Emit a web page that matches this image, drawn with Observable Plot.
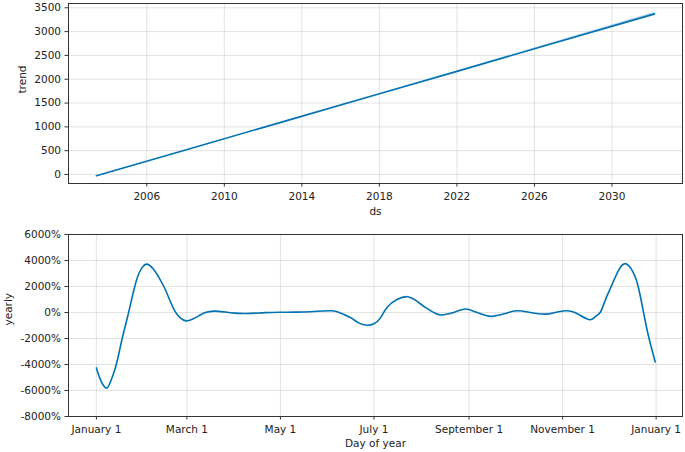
<!DOCTYPE html>
<html>
<head>
<meta charset="utf-8">
<script src="https://cdn.jsdelivr.net/npm/d3@7"></script>
<script src="https://cdn.jsdelivr.net/npm/@observablehq/plot@0.6"></script>
<style>
  html, body { margin: 0; padding: 0; background: white; }
  #chart svg { display: block; }
</style>
</head>
<body>
<div id="chart"></div>
<script>
// ---- Trend panel data ----
const trendYears  = [2003.4, 2008, 2013, 2018, 2022, 2026, 2032.2];
const trendValues = [-27, 515, 1105, 1695, 2165, 2640, 3372];
const trendLower  = [-27, 515, 1105, 1695, 2163, 2622, 3335];
const trendUpper  = [-27, 515, 1105, 1695, 2167, 2658, 3405];
const trendTickYears = [2006, 2010, 2014, 2018, 2022, 2026, 2030];
const trendYTicks = [0, 500, 1000, 1500, 2000, 2500, 3000, 3500];

// ---- Yearly seasonality panel data (day of year, percent) ----
const yearlyDays = [0, 2.6, 6.3, 9, 12, 14.5, 17, 21, 26, 30, 33, 37, 41, 45, 48, 51, 54.5, 58.5, 62.5, 67, 71, 76.5, 83, 90, 98, 110, 120, 130, 139.5, 151.5, 157, 165.6, 171, 176.5, 181, 185, 189.5, 196, 202.5, 208, 215, 222, 226.4, 233, 240.5, 247, 254.6, 259, 266, 274, 283, 292.7, 299, 305.7, 312, 321, 325, 328.5, 331.5, 335, 340.5, 345.3, 350.2, 353.5, 356.8, 360, 364.4];
const yearlyPct  = [-4264, -5163, -5814, -5380, -4400, -3250, -1900, 0, 2420, 3488, 3720, 3364, 2650, 1750, 900, 150, -400, -643, -520, -240, 0, 108, 50, -46, -77, -10, 20, 30, 54, 130, 60, -388, -800, -977, -860, -450, 388, 1000, 1217, 950, 350, -124, -178, 0, 264, 50, -256, -279, -100, 132, 0, -124, 0, 132, 0, -540, -350, 0, 850, 1814, 3233, 3750, 3050, 1900, 0, -1806, -3800];
const monthTickDays = [0, 59, 120, 181, 243, 304, 365];
const monthTickLabels = ["January 1", "March 1", "May 1", "July 1", "September 1", "November 1", "January 1"];
const yearlyYTicks = [-8000, -6000, -4000, -2000, 0, 2000, 4000, 6000];

// ---- helpers ----
function yearToDate(y) {
  const yi = Math.floor(y);
  const start = Date.UTC(yi, 0, 1), end = Date.UTC(yi + 1, 0, 1);
  return new Date(start + (y - yi) * (end - start));
}
const trendData = trendYears.map((y, i) => ({ds: yearToDate(y), trend: trendValues[i], lo: trendLower[i], hi: trendUpper[i]}));
const yearlyData = yearlyDays.map((d, i) => ({day: d, pct: yearlyPct[i]}));
const tickDates = trendTickYears.map(y => new Date(Date.UTC(y, 0, 1)));
const monthLabel = new Map(monthTickDays.map((d, i) => [d, monthTickLabels[i]]));

const BLUE = "#0072B2";
const style = {fontFamily: "'DejaVu Sans', sans-serif", fontSize: "10.5px", color: "#222", background: "white", overflow: "visible"};
const gridStyle = {stroke: "gray", strokeOpacity: 0.22, strokeWidth: 1};

const trendPlot = Plot.plot({
  width: 685, height: 226,
  marginTop: 3, marginBottom: 43, marginLeft: 68, marginRight: 3,
  style,
  x: {type: "utc", domain: [yearToDate(2001.96), yearToDate(2033.64)]},
  y: {domain: [-189, 3590]},
  marks: [
    Plot.gridX(tickDates, gridStyle),
    Plot.gridY(trendYTicks, gridStyle),
    Plot.areaY(trendData, {x: "ds", y1: "lo", y2: "hi", fill: BLUE, fillOpacity: 0.25}),
    Plot.line(trendData, {x: "ds", y: "trend", stroke: BLUE, strokeWidth: 1.6}),
    Plot.frame({stroke: "#333", strokeWidth: 1}),
    Plot.axisX(tickDates, {tickFormat: d => String(d.getUTCFullYear()), tickSize: 3.5, tickPadding: 6, label: null, stroke: "#333"}),
    Plot.axisY(trendYTicks, {tickFormat: d => String(d), tickSize: 3.5, tickPadding: 4, label: null, stroke: "#333"}),
    Plot.text(["ds"], {frameAnchor: "bottom", dy: 31, fill: "#222"}),
    Plot.text(["trend"], {frameAnchor: "left", dx: -46, rotate: -90, fill: "#222"})
  ]
});

const yearlyPlot = Plot.plot({
  width: 685, height: 226,
  marginTop: 8, marginBottom: 36, marginLeft: 68, marginRight: 3,
  style,
  x: {domain: [-18.2, 382.2]},
  y: {domain: [-8000, 6000]},
  marks: [
    Plot.gridX(monthTickDays, gridStyle),
    Plot.gridY(yearlyYTicks, gridStyle),
    Plot.line(yearlyData, {x: "day", y: "pct", stroke: BLUE, strokeWidth: 1.6, curve: "natural"}),
    Plot.frame({stroke: "#333", strokeWidth: 1}),
    Plot.axisX(monthTickDays, {tickFormat: d => monthLabel.get(d), tickSize: 3.5, tickPadding: 6, label: null, stroke: "#333"}),
    Plot.axisY(yearlyYTicks, {tickFormat: d => d + "%", tickSize: 3.5, tickPadding: 4, label: null, stroke: "#333"}),
    Plot.text(["Day of year"], {frameAnchor: "bottom", dy: 30, fill: "#222"}),
    Plot.text(["yearly"], {frameAnchor: "left", dx: -60, rotate: -90, fill: "#222"})
  ]
});

document.getElementById("chart").append(trendPlot, yearlyPlot);
</script>
</body>
</html>
